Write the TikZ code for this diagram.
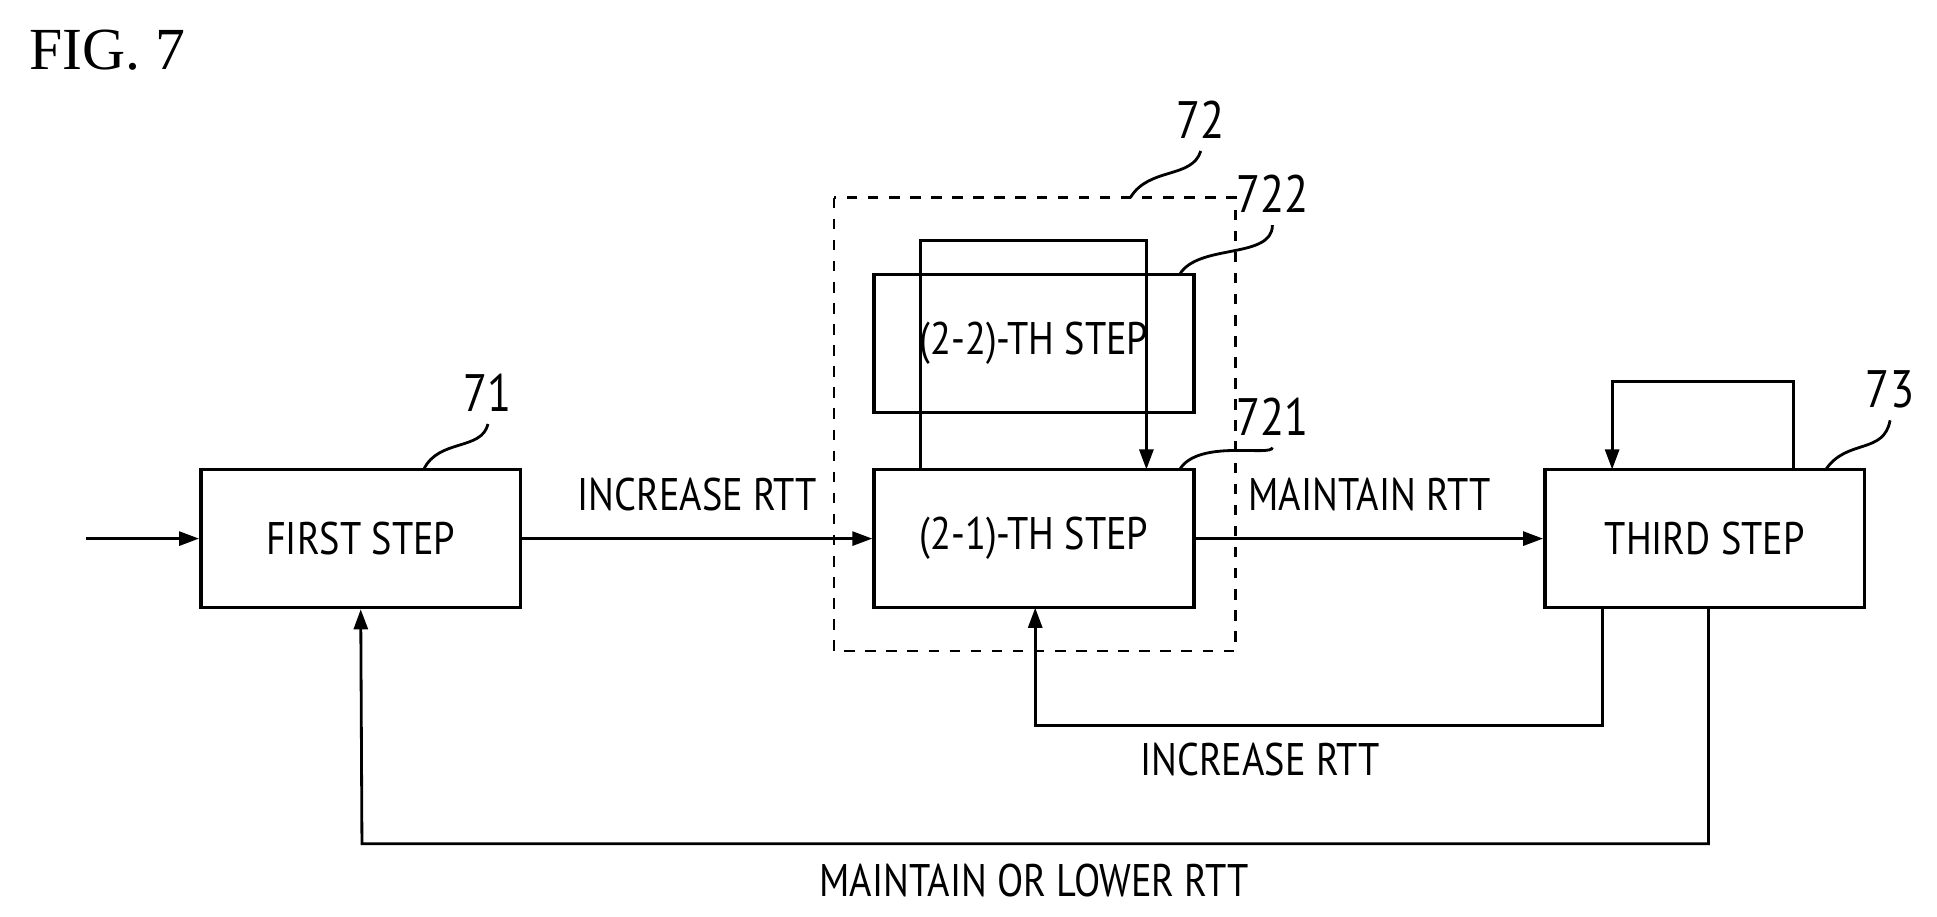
\documentclass[tikz,border=0pt]{standalone}
\usepackage{fontspec}
\setmainfont{Liberation Serif}
\newfontfamily\stepfont[FakeStretch=0.84]{PT Sans}
\usetikzlibrary{arrows.meta,positioning}
\tikzset{
  stepbox/.style={draw,line width=1pt,minimum width=3.2cm,minimum height=1.38cm,font=\stepfont\fontsize{13}{15}\selectfont},
  lbl/.style={font=\stepfont\fontsize{13}{15}\selectfont},
  num/.style={font=\stepfont\fontsize{15}{17}\selectfont},
  arr/.style={-{Triangle[length=0.2cm,width=0.14cm]},line width=0.8pt},
  lead/.style={line width=0.8pt},
}
\begin{document}
\begin{tikzpicture}[x=0.012353cm,y=-0.012353cm]
\useasboundingbox (0,0) rectangle (1568,742);
\node[anchor=north west,font=\fontsize{17}{19}\selectfont] (fig) at (14,14) {FIG. 7};
% step boxes
\node[stepbox] (first) at (292,436) {FIRST STEP};
\node[stepbox] (s21) at (837,436) {(2-1)-TH STEP};
\node[stepbox] (s22) at (837,278) {(2-2)-TH STEP};
\node[stepbox] (third) at (1380,436) {THIRD STEP};
\draw[dashed,line width=0.7pt] (675,160) rectangle (1000,527);
\coordinate (in) at (70,436);
% points on the box edges
\coordinate (s21a) at (745,380);
\coordinate (s21b) at (928,380);
\coordinate (s21c) at (838,492);
\coordinate (thA) at (1452,380);
\coordinate (thB) at (1305,380);
\coordinate (thC) at (1297,492);
\coordinate (thD) at (1383,492);
% forward arrows
\draw[arr] (in) -- (first.west);
\draw[arr] (first.east) -- node[lbl,above=4pt] {INCREASE RTT} (s21.west);
\draw[arr] (s21.east) -- node[lbl,above=4pt] {MAINTAIN RTT} (third.west);
% loops
\draw[arr] (s21a) |- (928,195) -- (s21b);
\draw[arr] (thA) |- (1305,309) -- (thB);
\draw[arr] (thC) |- (838,587) -- (s21c);
\draw[arr] (thD) |- (293,683) -- (first.south);
\node[lbl] (inc) at (1020,615) {INCREASE RTT};
\node[lbl] (mlow) at (837,713) {MAINTAIN OR LOWER RTT};
% reference numerals
\node[num] (n71) at (395,318) {71};
\node[num] (n72) at (972,97) {72};
\node[num] (n721) at (1030,337) {721};
\node[num] (n722) at (1030,157) {722};
\node[num] (n73) at (1530,315) {73};
\draw[lead] (343,380) .. controls (355,355) and (390,365) .. (n71.south);
\draw[lead] (915,160) .. controls (930,135) and (965,145) .. (n72.south);
\draw[lead] (955,380) .. controls (970,355) and (1030,370) .. (n721.south);
\draw[lead] (955,222) .. controls (970,197) and (1030,210) .. (n722.south);
\draw[lead] (1478,380) .. controls (1495,355) and (1525,368) .. (n73.south);
\end{tikzpicture}
\end{document}
